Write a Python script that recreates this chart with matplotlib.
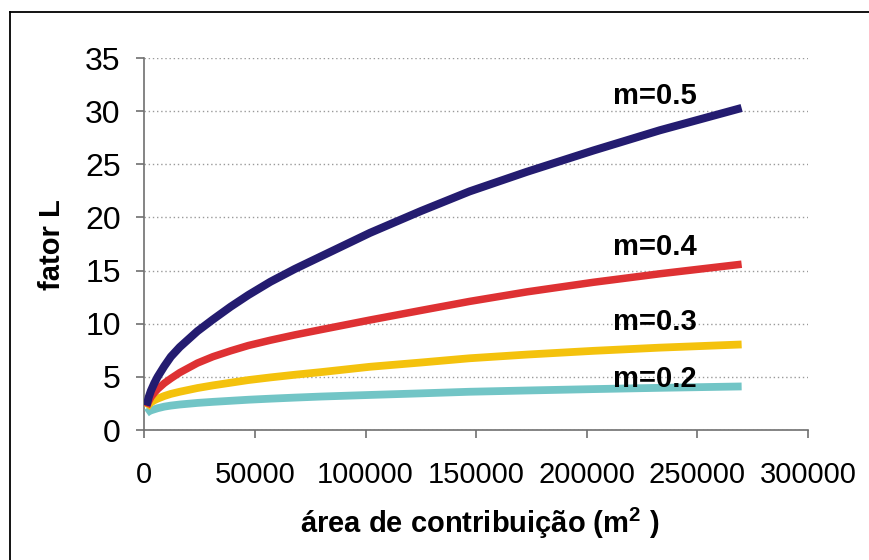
import matplotlib.pyplot as plt
from matplotlib.lines import Line2D

plt.rcParams['font.family'] = ['Liberation Sans', 'DejaVu Sans']
plt.rcParams['mathtext.fontset'] = 'custom'
plt.rcParams['mathtext.rm'] = 'Liberation Sans'
plt.rcParams['mathtext.bf'] = 'Liberation Sans:bold'

# values
area = [1000, 2000, 3000, 4500, 6000, 9000, 12000, 16000, 24000, 31000, 39000, 47000,
        57000, 68000, 80000, 102000, 125000, 147000, 173000, 203000, 233000, 270000]
L_m05 = [2.3, 3.1, 3.7, 4.4, 5.0, 6.0, 6.9, 7.8, 9.3, 10.4, 11.6, 12.7,
         13.95, 15.15, 16.35, 18.55, 20.6, 22.45, 24.3, 26.3, 28.2, 30.3]
L_m04 = [2.2, 2.7, 3.1, 3.5, 3.85, 4.4, 4.85, 5.4, 6.3, 6.9, 7.45, 7.95,
         8.45, 8.95, 9.45, 10.35, 11.25, 12.1, 13.0, 13.9, 14.7, 15.6]
L_m03 = [2.1, 2.4, 2.6, 2.8, 2.95, 3.2, 3.4, 3.6, 3.95, 4.2, 4.45, 4.7,
         4.95, 5.2, 5.45, 5.95, 6.35, 6.75, 7.1, 7.45, 7.75, 8.05]
L_m02 = [1.6, 1.75, 1.85, 1.95, 2.05, 2.2, 2.3, 2.4, 2.55, 2.65, 2.75, 2.85,
         2.95, 3.05, 3.15, 3.3, 3.45, 3.6, 3.72, 3.85, 3.97, 4.1]

labels = ["m=0.5", "m=0.4", "m=0.3", "m=0.2"]
label_x = 212000
label_y = [30.7, 16.5, 9.4, 4.05]

xticks = [0, 50000, 100000, 150000, 200000, 250000, 300000]
yticks = [0, 5, 10, 15, 20, 25, 30, 35]

fig = plt.figure(figsize=(8.69, 5.6), dpi=100)
ax = fig.add_axes([0.1661, 0.2321, 0.7637, 0.6643])

# lowest series first so the blue one sits on top
line_kw = dict(solid_capstyle="butt", solid_joinstyle="round")
ax.plot(area, L_m02, color="#72c5c6", lw=5.6, zorder=3, **line_kw)
ax.plot(area, L_m03, color="#f4c20d", lw=5.6, zorder=4, **line_kw)
ax.plot(area, L_m04, color="#de3133", lw=5.4, zorder=5, **line_kw)
ax.plot(area, L_m05, color="#241c70", lw=5.8, zorder=6, **line_kw)

for txt, y in zip(labels, label_y):
    ax.text(label_x, y, txt, fontsize=21, fontweight="bold", ha="left", va="baseline", zorder=7)

ax.set_xlim(0, 300000)
ax.set_ylim(0, 35)
ax.set_xticks(xticks)
ax.set_yticks(yticks)
ax.set_xticklabels([str(v) for v in xticks], fontsize=21)
ax.set_yticklabels([str(v) for v in yticks], fontsize=23)

ax.grid(axis="y", color="#9a9a9a", linestyle=(0, (1, 2)), linewidth=1.0, zorder=1)
ax.set_axisbelow(True)
for s in ["top", "right"]:
    ax.spines[s].set_visible(False)
for s in ["left", "bottom"]:
    ax.spines[s].set_color("#707070")
    ax.spines[s].set_linewidth(1.2)
ax.tick_params(axis="both", direction="out", length=6, width=1.2, color="#707070")
ax.tick_params(axis="y", pad=11)
ax.tick_params(axis="x", pad=16)

fig.text(0.06, 0.5625, "fator L", rotation=90, fontsize=21, fontweight="bold",
         ha="center", va="center")
fig.text(0.552, 0.048, r"área de contribuição (m$^{\mathbf{2}}$ )", fontsize=21,
         fontweight="bold", ha="center", va="baseline")

# outer frame: only the top and left edges show in the reference
fig.add_artist(Line2D([0.011, 0.011], [0.0, 0.978], color="black", lw=1.3))
fig.add_artist(Line2D([0.011, 1.0], [0.978, 0.978], color="black", lw=1.3))

fig.savefig("out.png", dpi=100)
